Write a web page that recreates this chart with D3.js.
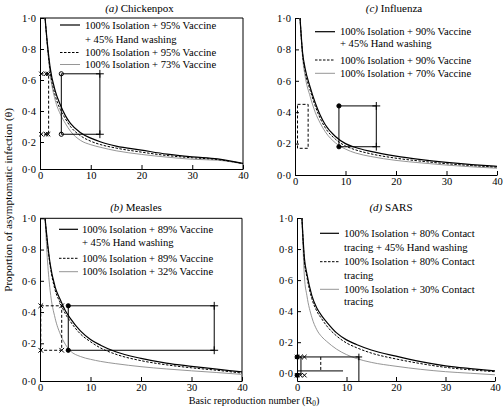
<!DOCTYPE html>
<html><head><meta charset="utf-8">
<script src="https://cdn.jsdelivr.net/npm/d3@7"></script>
<style>
body{margin:0;background:#fff}
svg{display:block}
text{font-family:"Liberation Serif","Times New Roman",serif;fill:#000}
</style></head>
<body><svg id="chart" width="504" height="411"></svg>
<script>
// ---------- data ----------
const r0Values = [1, 1.5, 2, 3, 4, 5, 6, 8, 10, 12, 15, 20, 25, 30, 35, 40];
const xTickValues = [0, 10, 20, 30, 40];
const yTickValues = [0, 0.2, 0.4, 0.6, 0.8, 1];

// (a) Chickenpox
const chickenpoxHand = [1, 0.82, 0.68, 0.53, 0.44, 0.37, 0.32, 0.26, 0.225, 0.20, 0.17, 0.14, 0.11, 0.09, 0.075, 0.042];
const chickenpoxVac  = [1, 0.81, 0.66, 0.50, 0.41, 0.35, 0.30, 0.24, 0.205, 0.18, 0.155, 0.125, 0.10, 0.083, 0.07, 0.04];
const chickenpoxLow  = [1, 0.80, 0.64, 0.47, 0.38, 0.32, 0.27, 0.21, 0.18, 0.16, 0.135, 0.108, 0.088, 0.072, 0.065, 0.038];
// (b) Measles
const measlesHand = [1, 0.84, 0.71, 0.56, 0.48, 0.41, 0.36, 0.28, 0.225, 0.19, 0.155, 0.12, 0.095, 0.078, 0.063, 0.048];
const measlesVac  = [1, 0.83, 0.70, 0.54, 0.46, 0.39, 0.34, 0.26, 0.21, 0.175, 0.142, 0.108, 0.086, 0.07, 0.057, 0.042];
const measlesLow  = [1, 0.72, 0.54, 0.36, 0.26, 0.195, 0.16, 0.13, 0.115, 0.104, 0.092, 0.076, 0.064, 0.054, 0.045, 0.035];
// (c) Influenza
const influenzaHand = [1, 0.78, 0.68, 0.56, 0.46, 0.38, 0.32, 0.245, 0.20, 0.175, 0.15, 0.12, 0.098, 0.08, 0.066, 0.055];
const influenzaVac  = [1, 0.77, 0.66, 0.54, 0.44, 0.36, 0.30, 0.228, 0.185, 0.16, 0.135, 0.107, 0.088, 0.072, 0.06, 0.05];
const influenzaLow  = [1, 0.75, 0.63, 0.50, 0.40, 0.33, 0.275, 0.205, 0.165, 0.14, 0.118, 0.093, 0.077, 0.063, 0.052, 0.043];
// (d) SARS
const sarsHand    = [1, 0.74, 0.64, 0.50, 0.42, 0.37, 0.33, 0.26, 0.215, 0.185, 0.15, 0.11, 0.075, 0.048, 0.03, 0.015];
const sarsTracing = [1, 0.72, 0.62, 0.48, 0.40, 0.35, 0.305, 0.24, 0.195, 0.165, 0.13, 0.092, 0.062, 0.038, 0.022, 0.01];
const sarsLow     = [1, 0.62, 0.50, 0.36, 0.28, 0.235, 0.205, 0.155, 0.12, 0.095, 0.07, 0.045, 0.025, 0.01, 0, -0.01];

// estimated ranges [R0 min, R0 max, theta min, theta max]
const chickenpoxRange = [4.2, 11.8, 0.25, 0.64];
const chickenpoxRangeLow = [0.1, 1.7, 0.25, 0.64];
const measlesRange = [5.6, 34.5, 0.163, 0.44];
const measlesRangeLow = [0.15, 4.3, 0.163, 0.44];
const influenzaRange = [8.7, 16.1, 0.18, 0.44];
const influenzaRangeLow = [0.5, 2.6, 0.17, 0.45];
const sarsRange = [0, 12.5, -0.013, 0.105];
const sarsRangeLow = [0, 9.3, 0.015, 0.105];

const titles = [["(a)", "Chickenpox"], ["(b)", "Measles"], ["(c)", "Influenza"], ["(d)", "SARS"]];
const legendChickenpox = ["100% Isolation + 95% Vaccine", "+ 45% Hand washing", "100% Isolation + 95% Vaccine", "100% Isolation + 73% Vaccine"];
const legendMeasles = ["100% Isolation + 89% Vaccine", "+ 45% Hand washing", "100% Isolation + 89% Vaccine", "100% Isolation + 32% Vaccine"];
const legendInfluenza = ["100% Isolation + 90% Vaccine", "+ 45% Hand washing", "100% Isolation + 90% Vaccine", "100% Isolation + 70% Vaccine"];
const legendSars = ["100% Isolation + 80% Contact", "tracing + 45% Hand washing", "100% Isolation + 80% Contact", "tracing", "100% Isolation + 30% Contact", "tracing"];
const xTitle = "Basic reproduction number (R";
const yTitle = "Proportion of asymptomatic infection (\u03b8)";

// ---------- layout ----------
const svg = d3.select("#chart");
const styles = {
  solid: {stroke: "#000", width: 1.2, dash: null},
  dashed: {stroke: "#000", width: 1, dash: "2.5,1.5"},
  gray: {stroke: "#8a8a8a", width: 0.9, dash: null}
};

const panels = [
  {title: titles[0], series: [chickenpoxHand, chickenpoxVac, chickenpoxLow],
   xr: [40, 243], yd: [0, 0.2, 1], yr: [169, 142, 18], frame: true, titlePos: [139.5, 11.5],
   legend: legendChickenpox, legendStyles: ["solid", null, "dashed", "gray"], legendX: [60, 80, 85], legendY: [25, 39.5, 52.5, 64.5],
   range: chickenpoxRange, rangeLow: chickenpoxRangeLow, kind: "a"},
  {title: titles[1], series: [measlesHand, measlesVac, measlesLow],
   xr: [40, 242], yd: [0, 0.2, 1], yr: [381, 343.3, 218.3], frame: true, titlePos: [136, 210.5],
   legend: legendMeasles, legendStyles: ["solid", null, "dashed", "gray"], legendX: [59, 78, 82], legendY: [229.3, 242.7, 258.3, 271.7],
   range: measlesRange, rangeLow: measlesRangeLow, kind: "b"},
  {title: titles[2], series: [influenzaHand, influenzaVac, influenzaLow],
   xr: [295, 497], yd: [0, 1], yr: [175, 18], frame: false, titlePos: [394, 11.5],
   legend: legendInfluenza, legendStyles: ["solid", null, "dashed", "gray"], legendX: [315, 335, 340], legendY: [31.7, 43.3, 60, 73.3],
   range: influenzaRange, rangeLow: influenzaRangeLow, kind: "c"},
  {title: titles[3], series: [sarsHand, sarsTracing, sarsLow],
   xr: [297, 495], yd: [-0.05, 1], yr: [381, 218], frame: false, titlePos: [391, 210.5],
   legend: legendSars, legendStyles: ["solid", null, "dashed", null, "gray", null], legendX: [320, 339, 344], legendY: [233.3, 247.3, 261.7, 275, 289.3, 301.7],
   range: sarsRange, rangeLow: sarsRangeLow, kind: "d"}
];

const fmt = d => d3.format(".1f")(d).replace(".", "\u00b7");

function sym(type, size) { return d3.symbol().type(type).size(size); }

panels.forEach(p => {
  const g = svg.append("g");
  const x = d3.scaleLinear().domain([0, 40]).range(p.xr);
  const y = d3.scaleLinear().domain(p.yd).range(p.yr);
  const yBottom = p.yr[0], yTop = p.yr[p.yr.length - 1];

  // axes
  const xa = g.append("g").attr("transform", `translate(0,${yBottom})`)
    .call(d3.axisBottom(x).tickValues(xTickValues).tickSizeInner(-4).tickSizeOuter(0).tickPadding(3));
  const ya = g.append("g").attr("transform", `translate(${p.xr[0]},0)`)
    .call(d3.axisLeft(y).tickValues(yTickValues).tickSizeInner(-4).tickSizeOuter(0).tickPadding(4).tickFormat(fmt));
  [xa, ya].forEach(a => {
    a.attr("font-family", null);
    a.selectAll("text").attr("font-size", 10.5).attr("fill", "#000");
    a.selectAll("path,line").attr("stroke", "#000").attr("stroke-width", 1);
  });
  if (p.frame) {
    g.append("path").attr("d", `M${p.xr[0]},${yTop}H${p.xr[1]}V${yBottom}`)
      .attr("fill", "none").attr("stroke", "#000").attr("stroke-width", 1);
  }

  // curves
  const line = d3.line().x(d => x(d[0])).y(d => y(d[1])).curve(d3.curveMonotoneX);
  [2, 1, 0].forEach(i => {
    const st = styles[["solid", "dashed", "gray"][i]];
    g.append("path").datum(r0Values.map((r, k) => [r, p.series[i][k]]))
      .attr("d", line).attr("fill", "none").attr("stroke", st.stroke)
      .attr("stroke-width", st.width).attr("stroke-dasharray", st.dash);
  });

  // range boxes
  const [ra0, ra1, ta0, ta1] = p.range;
  const [rb0, rb1, tb0, tb1] = p.rangeLow;
  const L = (d, dash, w) => g.append("path").attr("d", d).attr("fill", "none").attr("stroke", "#000")
      .attr("stroke-width", w || 1).attr("stroke-dasharray", dash || null);
  const mark = (type, size, cx, cy, filled) => g.append("path").attr("d", sym(type, size)())
      .attr("transform", `translate(${cx},${cy})`).attr("fill", filled ? "#000" : "none")
      .attr("stroke", "#000").attr("stroke-width", 1);

  if (p.kind === "d") {
    L(`M${x(ra0)},${y(ta1)}H${x(ra1)}V${y(ta0) + 6}`);
    L(`M${x(rb0)},${y(tb0)}H${x(rb1)}`);
    L(`M${x(0.8)},${y(ta1)}V${y(ta0)}`);
    L(`M${x(4.8)},${y(ta1)}V${y(tb0)}`, "3,2");
    [ta1, ta0].forEach(t => {
      mark(d3.symbolCircle, 12, x(0), y(t), true);
      mark(d3.symbolTimes, 14, x(0), y(t), false);
      mark(d3.symbolTimes, 14, x(0.7), y(t), false);
      mark(d3.symbolTimes, 14, x(1.5), y(t), false);
    });
    mark(d3.symbolPlus, 16, x(ra1), y(ta1), false);
  } else {
    L(`M${x(rb0)},${y(tb1)}H${x(rb1)}V${y(tb0)}H${x(rb0)}Z`, "3,2");
    L(`M${x(ra0)},${y(ta1)}H${x(ra1)}V${y(ta0)}H${x(ra0)}Z`);
    const hollow = p.kind === "a";
    [ta0, ta1].forEach(t => {
      mark(d3.symbolCircle, 14, x(ra0), y(t), !hollow);
      mark(d3.symbolPlus, 22, x(ra1), y(t), false);
    });
    if (p.kind === "b") {
      [tb0, tb1].forEach(t => { mark(d3.symbolTimes, 16, x(rb0), y(t)); mark(d3.symbolTimes, 16, x(rb1), y(t)); });
    }
    if (p.kind === "a") {
      [tb0, tb1].forEach(t => {
        mark(d3.symbolTimes, 14, x(0.25), y(t)); mark(d3.symbolTimes, 14, x(1.2), y(t)); mark(d3.symbolTimes, 14, x(1.6), y(t));
      });
    }
  }

  // title
  const tt = g.append("text").attr("x", p.titlePos[0]).attr("y", p.titlePos[1]).attr("text-anchor", "middle").attr("font-size", 11);
  tt.append("tspan").attr("font-style", "italic").text(p.title[0]);
  tt.append("tspan").text(" " + p.title[1]);

  // legend
  p.legend.forEach((txt, i) => {
    const cy = p.legendY[i];
    const sname = p.legendStyles[i];
    if (sname) {
      const st = styles[sname];
      g.append("line").attr("x1", p.legendX[0]).attr("x2", p.legendX[1]).attr("y1", cy).attr("y2", cy)
        .attr("stroke", st.stroke).attr("stroke-width", st.width).attr("stroke-dasharray", st.dash);
    }
    g.append("text").attr("x", p.legendX[2]).attr("y", cy + 3.5).attr("font-size", 10.6).text(txt);
  });
});

// axis titles
const xt = svg.append("text").attr("x", 254).attr("y", 403.5).attr("text-anchor", "middle").attr("font-size", 10.2);
xt.append("tspan").text(xTitle);
xt.append("tspan").attr("font-size", 7.3).attr("dy", 2.5).text("0");
xt.append("tspan").attr("dy", -2.5).text(")");
svg.append("text").attr("transform", "translate(11.5,200) rotate(-90)").attr("text-anchor", "middle")
  .attr("font-size", 11.2).text(yTitle);
</script></body></html>
